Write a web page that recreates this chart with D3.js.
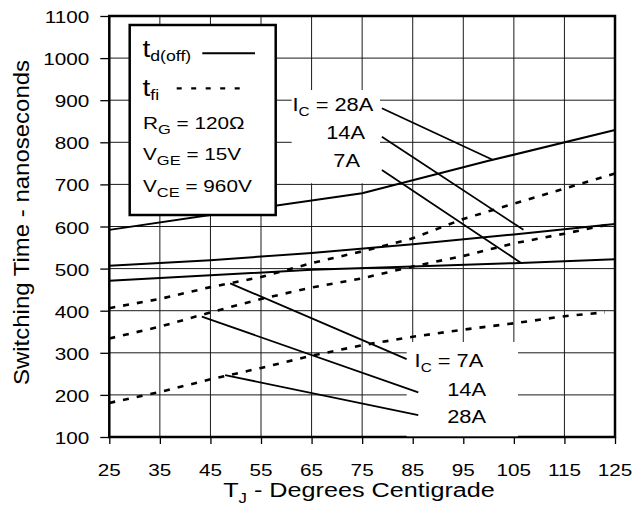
<!DOCTYPE html>
<html><head><meta charset="utf-8">
<script src="https://cdn.jsdelivr.net/npm/d3@7"></script>
<style>
body{margin:0;background:#fff}
svg{display:block}
text{font-family:"Liberation Sans",Arial,sans-serif;fill:#000}
</style>
</head><body>
<svg id="c" width="634" height="509"></svg>
<script>
// ---------- data ----------
const xTicks = [25,35,45,55,65,75,85,95,105,115,125];
const yTicks = [100,200,300,400,500,600,700,800,900,1000,1100];

// t_d(off) (solid)
const tdOff28A_T = [25,50,75,100,125];
const tdOff28A   = [592,636,679,756,829];
const tdOff14A_T = [25,45,65,85,105,125];
const tdOff14A   = [507,520,537,558,581,606];
const tdOff7A_T  = [25,45,65,85,105,125];
const tdOff7A    = [471,484,497,505,513,522];

// t_fi (dashed)
const tfi7A_T  = [25,35,45,55,65,75,85,95,105,115,125];
const tfi7A    = [406,428,456,480,513,541,572,618,654,690,726];
const tfi14A_T = [25,35,45,55,65,75,85,95,105,115,125];
const tfi14A   = [334,362,396,428,455,477,505,530,560,583,608];
const tfi28A_T = [25,35,45,55,65,75,85,95,105,115,123];
const tfi28A   = [181,207,237,264,293,318,338,355,370,387,396];

// annotation leader lines [t1,v1,t2,v2]
const leadTop = [[78.9,881,100.9,758],[78.9,813,106.9,592],[78.9,734,106.5,513]];
const leadBot = [[48.9,465,83.8,285],[43.3,386,86.1,206],[47.9,247,86.1,152]];
const topLabels = ["28A","14A","7A"];
const botLabels = ["7A","14A","28A"];
const legendText = [["R","G"," = 120\u03A9"],["V","GE"," = 15V"],["V","CE"," = 960V"]];

// ---------- layout ----------
const svg = d3.select("#c");
const x = d3.scaleLinear().domain([25,125]).range([109.3,615]);
const y = d3.scaleLinear().domain([100,1100]).range([437,16]);
const FONT_SX = 1.22;

function stext(parent, px, py, sx, anchor, parts){
  const t = parent.append("text")
    .attr("transform", `translate(${px},${py}) scale(${sx},1)`)
    .attr("text-anchor", anchor);
  parts.forEach(p => {
    const ts = t.append("tspan").attr("font-size", p.fs).text(p.s);
    if (p.dy) ts.attr("dy", p.dy);
  });
  return t;
}

// grid
const grid = svg.append("g").attr("stroke","#1a1a1a").attr("stroke-width",1);
xTicks.forEach(d => grid.append("line").attr("x1",x(d)).attr("x2",x(d)).attr("y1",y(1100)).attr("y2",y(100)));
yTicks.forEach(d => grid.append("line").attr("x1",x(25)).attr("x2",x(125)).attr("y1",y(d)).attr("y2",y(d)));

// axes (tick marks)
const ax = svg.append("g").attr("transform",`translate(0,${y(100)})`)
  .call(d3.axisBottom(x).tickValues(xTicks).tickSize(7).tickFormat(""));
const ay = svg.append("g").attr("transform",`translate(${x(25)},0)`)
  .call(d3.axisLeft(y).tickValues(yTicks).tickSize(9).tickFormat(""));
[ax,ay].forEach(a => { a.select(".domain").remove(); a.selectAll(".tick line").attr("stroke","#000").attr("stroke-width",1.3); });

// tick labels
xTicks.forEach(d => stext(svg, x(d), y(100)+38.5, FONT_SX, "middle", [{s:String(d), fs:17}]));
yTicks.forEach(d => stext(svg, x(25)-20, y(d)+7, FONT_SX, "end", [{s:String(d), fs:17}]));

// frame
svg.append("rect").attr("x",x(25)).attr("y",y(1100)).attr("width",x(125)-x(25)).attr("height",y(100)-y(1100))
  .attr("fill","none").attr("stroke","#000").attr("stroke-width",2.5);

// white annotation boxes (cover grid)
svg.append("rect").attr("x",291.7).attr("y",90).attr("width",88.3).attr("height",93.3).attr("fill","#fff");
svg.append("rect").attr("x",406.7).attr("y",342).attr("width",111.3).attr("height",94.3).attr("fill","#fff");

// curves
const line = d3.line().x(d=>x(d[0])).y(d=>y(d[1])).curve(d3.curveLinear);
const zip = (a,b) => a.map((t,i)=>[t,b[i]]);
const solid = [zip(tdOff28A_T,tdOff28A), zip(tdOff14A_T,tdOff14A), zip(tdOff7A_T,tdOff7A)];
const dashed = [zip(tfi7A_T,tfi7A), zip(tfi14A_T,tfi14A), zip(tfi28A_T,tfi28A)];
solid.forEach(s => svg.append("path").attr("d",line(s)).attr("fill","none").attr("stroke","#000").attr("stroke-width",2));
dashed.forEach(s => svg.append("path").attr("d",line(s)).attr("fill","none").attr("stroke","#000")
  .attr("stroke-width",2.6).attr("stroke-dasharray","6,8"));

// leader lines
leadTop.concat(leadBot).forEach(l => svg.append("line")
  .attr("x1",x(l[0])).attr("y1",y(l[1])).attr("x2",x(l[2])).attr("y2",y(l[3]))
  .attr("stroke","#000").attr("stroke-width",1.8));

// annotation labels
const AS = 1.18, AF = 18.5;
stext(svg, 373.3, 111, AS, "end", [{s:"I",fs:AF},{s:"C",fs:13,dy:5},{s:" = "+topLabels[0],fs:AF,dy:-5}]);
stext(svg, 365, 139, AS, "end", [{s:topLabels[1],fs:AF}]);
stext(svg, 360, 166.7, AS, "end", [{s:topLabels[2],fs:AF}]);
stext(svg, 483.3, 367.3, AS, "end", [{s:"I",fs:AF},{s:"C",fs:13,dy:5},{s:" = "+botLabels[0],fs:AF,dy:-5}]);
stext(svg, 486, 395.7, AS, "end", [{s:botLabels[1],fs:AF}]);
stext(svg, 486, 423.3, AS, "end", [{s:botLabels[2],fs:AF}]);

// legend
const lg = svg.append("g");
lg.append("rect").attr("x",129.7).attr("y",25).attr("width",146).attr("height",190)
  .attr("fill","#fff").attr("stroke","#000").attr("stroke-width",2.5);
stext(lg, 142.5, 57.3, FONT_SX, "start", [{s:"t",fs:23},{s:"d(off)",fs:14.5,dy:4}]);
lg.append("line").attr("x1",202.3).attr("x2",255).attr("y1",53.3).attr("y2",53.3).attr("stroke","#000").attr("stroke-width",2);
stext(lg, 142.5, 95.7, FONT_SX, "start", [{s:"t",fs:23},{s:"fi",fs:14.5,dy:4}]);
lg.append("line").attr("x1",176.7).attr("x2",242).attr("y1",88.3).attr("y2",88.3).attr("stroke","#000")
  .attr("stroke-width",2.2).attr("stroke-dasharray","5,9.5");
const lgY = [129,160,191.7];
legendText.forEach((p,i) => stext(lg, 143, lgY[i], FONT_SX, "start",
  [{s:p[0],fs:17},{s:p[1],fs:13.5,dy:5},{s:p[2],fs:17,dy:-5}]));

// axis titles
stext(svg, 359, 496.7, 1.2, "middle", [{s:"T",fs:21},{s:"J",fs:14,dy:6},{s:" - Degrees Centigrade",fs:21,dy:-6}]);
svg.append("text").attr("transform","translate(29,222.5) rotate(-90) scale(1.09,1)")
  .attr("text-anchor","middle").attr("font-size",22).text("Switching Time - nanoseconds");
</script>
</body></html>
